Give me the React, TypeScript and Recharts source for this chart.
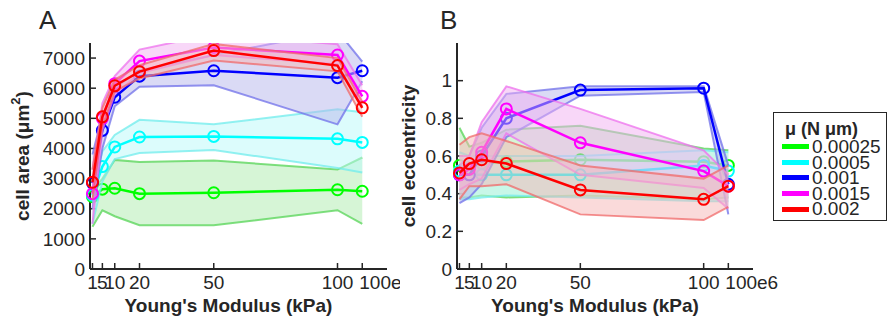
import React from 'react';
import { ComposedChart, Line, Area, XAxis, YAxis } from 'recharts';

// x positions (kPa); the last point "100e6" sits just right of 100
const moduli = [1, 5, 10, 20, 50, 100, 110];
const xTickLabels = ['1', '5', '10', '20', '50', '100', '100e6'];
const areaTicks = [0, 1000, 2000, 3000, 4000, 5000, 6000, 7000];
const eccTicks = [0, 0.2, 0.4, 0.6, 0.8, 1];

const muLabels = ['0.00025', '0.0005', '0.001', '0.0015', '0.002'];
const muColors = ['#00ff00', '#00ffff', '#0000ff', '#ff00ff', '#ff0000'];
// half-transparent pastel fills, so bands fade whatever lies under them
const bandFills = ['#adebad', '#b9f9f9', '#b5b5eb', '#f1aff1', '#f5b5b5'];
const edgeColors = ['#55d455', '#70ecec', '#7070ea', '#ee70ee', '#f06a6a'];

// panel A: cell area (um^2)
const area1 = [2400, 2650, 2680, 2500, 2530, 2630, 2580];
const area1Lo = [1400, 1950, 1750, 1450, 1450, 1950, 1500];
const area1Hi = [2600, 3000, 3620, 3550, 3600, 3300, 3700];
const area2 = [2450, 3400, 4050, 4380, 4400, 4320, 4200];
const area2Lo = [1500, 2900, 3650, 3850, 3950, 3350, 3200];
const area2Hi = [2700, 3900, 4450, 4950, 4800, 5300, 5200];
const area3 = [2850, 4600, 5700, 6400, 6580, 6350, 6580];
const area3Lo = [2000, 4000, 5400, 6050, 6100, 4800, 6230];
const area3Hi = [3800, 5100, 6000, 6600, 7100, 7900, 6880];
const area4 = [2500, 5000, 6150, 6900, 7350, 7100, 5730];
const area4Lo = [1500, 4600, 5800, 6500, 7100, 6800, 5400];
const area4Hi = [3300, 5500, 6400, 7280, 7800, 7460, 6100];
const area5 = [2880, 5050, 6080, 6550, 7250, 6750, 5350];
const area5Lo = [2300, 4750, 5900, 6320, 6920, 6560, 5050];
const area5Hi = [3300, 5350, 6280, 6760, 7470, 7000, 5550];

// panel B: cell eccentricity
const ecc1 = [0.55, 0.54, 0.56, 0.57, 0.58, 0.57, 0.55];
const ecc1Lo = [0.38, 0.38, 0.39, 0.38, 0.39, 0.37, 0.38];
const ecc1Hi = [0.75, 0.65, 0.67, 0.74, 0.76, 0.64, 0.63];
const ecc2 = [0.52, 0.5, 0.5, 0.5, 0.5, 0.55, 0.52];
const ecc2Lo = [0.37, 0.37, 0.38, 0.39, 0.38, 0.36, 0.36];
const ecc2Hi = [0.62, 0.6, 0.6, 0.6, 0.6, 0.63, 0.62];
const ecc3 = [0.5, 0.5, 0.6, 0.8, 0.95, 0.96, 0.45];
const ecc3Lo = [0.35, 0.38, 0.45, 0.7, 0.92, 0.94, 0.29];
const ecc3Hi = [0.55, 0.6, 0.75, 0.93, 0.97, 0.97, 0.55];
const ecc4 = [0.5, 0.53, 0.62, 0.85, 0.67, 0.52, 0.44];
const ecc4Lo = [0.42, 0.45, 0.48, 0.72, 0.5, 0.43, 0.32];
const ecc4Hi = [0.6, 0.6, 0.78, 0.97, 0.85, 0.63, 0.5];
const ecc5 = [0.51, 0.56, 0.58, 0.56, 0.42, 0.37, 0.44];
const ecc5Lo = [0.37, 0.44, 0.44, 0.45, 0.29, 0.26, 0.33];
const ecc5Hi = [0.66, 0.7, 0.72, 0.68, 0.55, 0.48, 0.55];

const buildRows = (means: number[][], lows: number[][], highs: number[][]) =>
  moduli.map((x, i) => {
    const row: any = { x };
    means.forEach((m, k) => {
      row['m' + k] = m[i];
      row['b' + k] = [lows[k][i], highs[k][i]];
    });
    return row;
  });

const areaRows = buildRows(
  [area1, area2, area3, area4, area5],
  [area1Lo, area2Lo, area3Lo, area4Lo, area5Lo],
  [area1Hi, area2Hi, area3Hi, area4Hi, area5Hi]
);
const eccRows = buildRows(
  [ecc1, ecc2, ecc3, ecc4, ecc5],
  [ecc1Lo, ecc2Lo, ecc3Lo, ecc4Lo, ecc5Lo],
  [ecc1Hi, ecc2Hi, ecc3Hi, ecc4Hi, ecc5Hi]
);

const INK = '#262626';
const FONT = '"Liberation Sans", Arial, sans-serif';
const H = 321;
const TOP = 43;
const XH = 52;

// x tick: the "100e6" label starts at its tick, like the original figure
const XTick = ({ x, y, payload }: any) => {
  const i = moduli.indexOf(payload.value);
  const last = i === moduli.length - 1;
  return (
    <text
      x={last ? x - 3 : x}
      y={y}
      dy="0.75em"
      textAnchor={last ? 'start' : 'middle'}
      fontSize={19}
      fill={INK}
    >
      {xTickLabels[i]}
    </text>
  );
};

const YTitle = ({ viewBox, text, sup, dx }: any) => {
  const cx = viewBox.x + dx;
  const cy = viewBox.y + viewBox.height / 2;
  return (
    <text
      x={cx}
      y={cy}
      transform={`rotate(-90 ${cx} ${cy})`}
      textAnchor="middle"
      dominantBaseline="central"
      fontSize={19}
      fontWeight="bold"
      fill={INK}
    >
      {text}
      {sup ? (
        <>
          <tspan dy={-7} fontSize={13}>{sup}</tspan>
          <tspan dy={7}>)</tspan>
        </>
      ) : null}
    </text>
  );
};

interface FrameProps {
  rows: any[];
  width: number;
  right: number;
  yWidth: number;
  yDomain: [number, number];
  yTicks: number[];
  title: string;
  sup?: string;
  titleDx: number;
}

// axes, box and titles
const Frame = ({ rows, width, right, yWidth, yDomain, yTicks, title, sup, titleDx }: FrameProps) => (
  <ComposedChart width={width} height={H} data={rows} margin={{ top: TOP, right, bottom: 0, left: 0 }}>
    <XAxis
      dataKey="x"
      type="number"
      domain={[0, 120]}
      ticks={moduli}
      interval={0}
      tick={<XTick />}
      tickSize={-6}
      tickMargin={12}
      height={XH}
      axisLine={{ stroke: INK, strokeWidth: 2 }}
      tickLine={{ stroke: INK, strokeWidth: 1.5 }}
      label={{
        value: "Young's Modulus (kPa)",
        position: 'insideBottom',
        offset: 9,
        dx: -10,
        style: { fontSize: 19, fontWeight: 'bold', fill: INK },
      }}
    />
    <XAxis xAxisId="top" orientation="top" type="number" domain={[0, 120]} height={0} tick={false} axisLine={{ stroke: INK, strokeWidth: 2 }} />
    <YAxis
      type="number"
      domain={yDomain}
      allowDataOverflow
      ticks={yTicks}
      interval={0}
      tick={{ fontSize: 19, fill: INK }}
      tickSize={-6}
      tickMargin={11}
      width={yWidth}
      axisLine={{ stroke: INK, strokeWidth: 2 }}
      tickLine={{ stroke: INK, strokeWidth: 1.5 }}
      label={<YTitle text={title} sup={sup} dx={titleDx} />}
    />
    <YAxis yAxisId="right" orientation="right" width={0} tick={false} axisLine={{ stroke: INK, strokeWidth: 2 }} />
    <Line dataKey="m0" stroke="none" dot={false} activeDot={false} isAnimationActive={false} />
  </ComposedChart>
);

// one series (band + mean line) per overlay, so later series cover earlier ones
const SeriesLayer = ({ rows, k, width, right, yWidth, yDomain }: any) => (
  <ComposedChart
    width={width}
    height={H}
    data={rows}
    margin={{ top: TOP, right, bottom: XH, left: yWidth }}
  >
    <XAxis hide dataKey="x" type="number" domain={[0, 120]} />
    <YAxis hide type="number" domain={yDomain} allowDataOverflow />
    <Area
      type="linear"
      dataKey={'b' + k}
      stroke={edgeColors[k]}
      strokeWidth={2}
      strokeOpacity={0.75}
      fill={bandFills[k]}
      fillOpacity={0.5}
      dot={false}
      activeDot={false}
      isAnimationActive={false}
    />
    <Line
      type="linear"
      dataKey={'m' + k}
      stroke={muColors[k]}
      strokeWidth={2.5}
      dot={{ r: 5.5, strokeWidth: 2, fill: 'none', stroke: muColors[k] }}
      activeDot={false}
      isAnimationActive={false}
    />
  </ComposedChart>
);

const Panel = (props: FrameProps & { left: number; clipWidth: number }) => (
  <div style={{ position: 'absolute', left: props.left, top: 0, width: props.clipWidth, height: H, overflow: 'hidden' }}>
    <div style={{ position: 'absolute', left: 0, top: 0 }}>
      <Frame {...props} />
    </div>
    {muColors.map((c, k) => (
      <div key={c} style={{ position: 'absolute', left: 0, top: 0, pointerEvents: 'none' }}>
        <SeriesLayer
          rows={props.rows}
          k={k}
          width={props.width}
          right={props.right}
          yWidth={props.yWidth}
          yDomain={props.yDomain}
        />
      </div>
    ))}
  </div>
);

const Legend = () => (
  <div
    style={{
      position: 'absolute',
      left: 773,
      top: 112,
      width: 114,
      height: 109,
      border: `1px solid ${INK}`,
      background: '#fff',
      paddingTop: 6,
      boxSizing: 'border-box',
    }}
  >
    <div style={{ fontSize: 18, fontWeight: 'bold', lineHeight: '20px', paddingLeft: 11, color: INK }}>μ (N μm)</div>
    {muLabels.map((m, k) => (
      <div key={m} style={{ display: 'flex', alignItems: 'center', height: 15.6, paddingLeft: 8 }}>
        <span style={{ display: 'inline-block', width: 27, height: 5, background: muColors[k], marginRight: 3 }} />
        <span style={{ fontSize: 19, lineHeight: '15.6px', color: INK }}>{m}</span>
      </div>
    ))}
  </div>
);

export default function App() {
  return (
    <div style={{ position: 'relative', width: 891, height: H, background: '#fff', fontFamily: FONT, overflow: 'hidden' }}>
      <style>{'body{margin:0}'}</style>
      <div style={{ position: 'absolute', left: 39, top: 7, fontSize: 26, lineHeight: '26px', color: INK }}>A</div>
      <div style={{ position: 'absolute', left: 440, top: 7, fontSize: 26, lineHeight: '26px', color: INK }}>B</div>
      <Panel
        left={0}
        clipWidth={400}
        rows={areaRows}
        width={404}
        right={17}
        yWidth={90}
        yDomain={[0, 7500]}
        yTicks={areaTicks}
        title="cell area (μm"
        sup="2"
        titleDx={22}
      />
      <Panel
        left={390}
        clipWidth={501}
        rows={eccRows}
        width={420}
        right={57}
        yWidth={67}
        yDomain={[0, 1.2]}
        yTicks={eccTicks}
        title="cell eccentricity"
        titleDx={18}
      />
      <Legend />
    </div>
  );
}
